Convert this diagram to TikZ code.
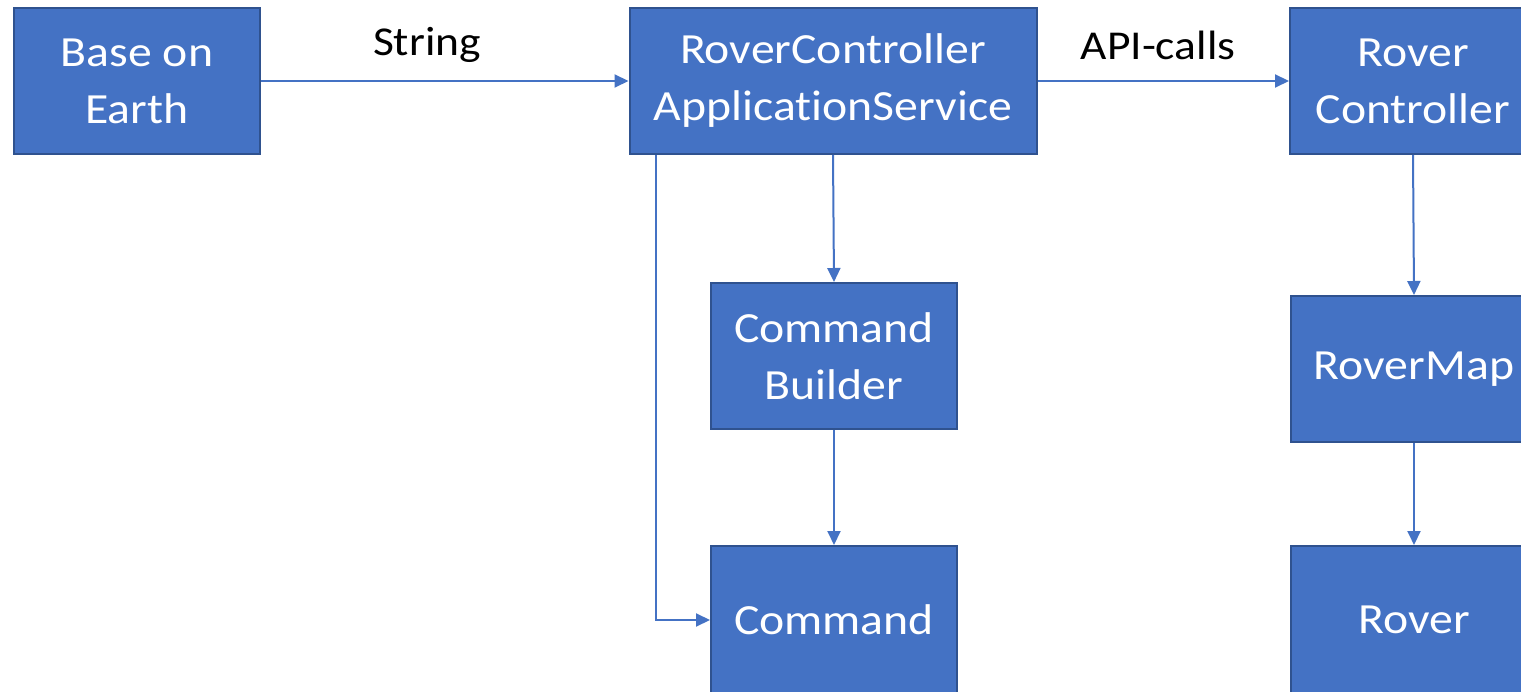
\documentclass[tikz,border=0pt]{standalone}
\usepackage{fontspec}
\setmainfont{Carlito}[FakeStretch=1.11,Ligatures=NoCommon]
\usetikzlibrary{arrows.meta}
\definecolor{boxfill}{HTML}{4472C4}
\definecolor{boxline}{HTML}{2F528F}
\definecolor{arrowcol}{HTML}{4472C4}
\tikzset{
  blk/.style={draw=boxline, line width=2pt, fill=boxfill, text=white, align=center,
    inner sep=0pt, font=\fontsize{43}{57}\selectfont},
  conn/.style={draw=arrowcol, line width=2pt, -{Triangle[length=14pt,width=13pt]}},
  lbl/.style={font=\fontsize{41}{48}\selectfont, text=black, inner sep=0pt}
}
\begin{document}
\begin{tikzpicture}[x=1pt,y=-1pt]
\useasboundingbox (0,0) rectangle (1521,692);
\clip (0,0) rectangle (1521,692);
\fill[white] (0,0) rectangle (1521,692);
\node[blk, minimum width=246pt, minimum height=146pt] (base) at (137,81) {Base on\\Earth};
\node[blk, minimum width=407pt, minimum height=146pt] (svc) at (833,81) {RoverController\\ApplicationService};
\node[blk, minimum width=246pt, minimum height=146pt] (rc) at (1413,81) {Rover\\Controller};
\node[blk, minimum width=246pt, minimum height=146pt] (cb) at (834,356) {Command\\Builder};
\node[blk, minimum width=246pt, minimum height=148pt] (cmd) at (834,620) {Command};
\node[blk, minimum width=246pt, minimum height=146pt] (map) at (1414,369) {RoverMap};
\node[blk, minimum width=246pt, minimum height=148pt] (rover) at (1414,620) {Rover};
\node[lbl] (s) at (427,45) {String};
\node[lbl] (a) at (1158,45) {API-calls};
\coordinate (bend) at (656,620);
\draw[conn] (base.east) -- (svc.west);
\draw[conn] (svc.east) -- (rc.west);
\draw[conn] (svc.south) -- (cb.north);
\draw[conn] (cb.south) -- (cmd.north);
\draw[conn] (svc.south west -| bend) -- (bend) -- (cmd.west);
\draw[conn] (rc.south) -- (map.north);
\draw[conn] (map.south) -- (rover.north);
\end{tikzpicture}
\end{document}
